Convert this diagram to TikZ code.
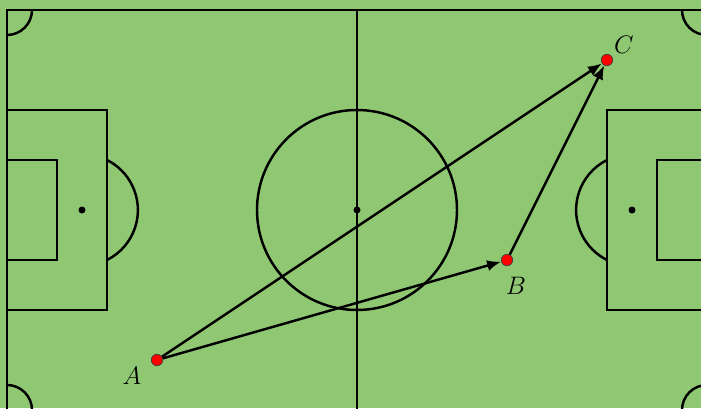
\documentclass[tikz,border=0pt]{standalone}
\usetikzlibrary{arrows.meta}
\definecolor{pitch}{RGB}{143,199,115}
\begin{document}
\begin{tikzpicture}[x=1cm,y=1cm,
  fieldline/.style={line width=1.4pt, black},
  spot/.style={circle, fill=black, inner sep=0pt, minimum size=0.14cm},
  player/.style={circle, fill=red, draw=black!75, line width=0.4pt, inner sep=0pt, minimum size=0.23cm},
  pass/.style={line width=1.4pt, -{Latex[length=2.8mm,width=2.2mm]}},
  lab/.style={font=\Large}]
\useasboundingbox (-0.14,0.04) rectangle (13.88,8.2);
\clip (-0.14,0.04) rectangle (13.88,8.2);
\fill[pitch] (-0.14,0.04) rectangle (13.88,8.2);
% field outline
\draw[fieldline] (0,0) rectangle (14,8);
\draw[fieldline] (7,0) -- (7,8);
\draw[fieldline] (7,4) circle (2);
\node[spot] (cs) at (7,4) {};
% left side
\draw[fieldline] (0,2) rectangle (2,6);
\draw[fieldline] (0,3) rectangle (1,5);
\node[spot] (lps) at (1.5,4) {};
\draw[fieldline] (2,3) arc[start angle=-63.435, end angle=63.435, radius=1.118];
% right side
\draw[fieldline] (14,2) rectangle (12,6);
\draw[fieldline] (14,3) rectangle (13,5);
\node[spot] (rps) at (12.5,4) {};
\draw[fieldline] (12,5) arc[start angle=116.565, end angle=243.435, radius=1.118];
% corners
\draw[fieldline] (0.5,8) arc[start angle=0, end angle=-90, radius=0.5];
\draw[fieldline] (0,0.5) arc[start angle=90, end angle=0, radius=0.5];
\draw[fieldline] (13.5,8) arc[start angle=180, end angle=270, radius=0.5];
\draw[fieldline] (14,0.5) arc[start angle=90, end angle=180, radius=0.5];
% players
\node[player] (A) at (3,1) {};
\node[player] (B) at (10,3) {};
\node[player] (C) at (12,7) {};
\node[lab] (la) at (2.5,0.68) {$A$};
\node[lab] (lb) at (10.18,2.48) {$B$};
\node[lab] (lc) at (12.34,7.3) {$C$};
% passes
\draw[pass] (A) -- (B);
\draw[pass] (A) -- (C);
\draw[pass] (B) -- (C);
\end{tikzpicture}
\end{document}
